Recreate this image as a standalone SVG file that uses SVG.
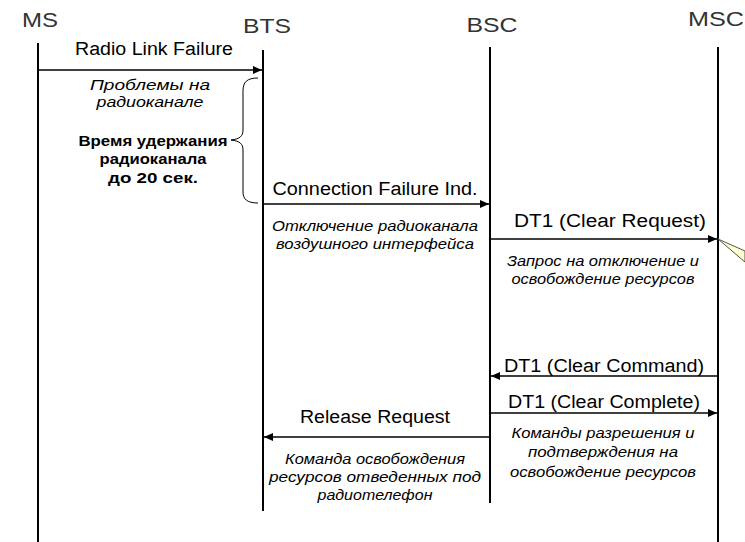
<svg xmlns="http://www.w3.org/2000/svg" width="745" height="542" viewBox="0 0 745 542">
<defs>
<marker id="ah" markerWidth="10" markerHeight="8" refX="9" refY="4" orient="auto" markerUnits="userSpaceOnUse">
<path d="M0,0 L9,4 L0,8 Z" fill="#000"/>
</marker>
<style>
text{font-family:"Liberation Sans",Arial,sans-serif;text-anchor:middle}
.ent{font-size:21px;fill:#333}
.life{stroke:#000;stroke-width:2;fill:none}
.msg{stroke:#000;stroke-width:1.6;fill:none;marker-end:url(#ah)}
.lbl{font-size:18px;fill:#000}
.note{font-size:15px;font-style:italic;fill:#000}
.bold{font-size:15.5px;font-weight:bold;fill:#000}
</style>
</defs>
<rect width="745" height="542" fill="#fff"/>
<g id="MS">
<text class="ent" x="40" y="27" textLength="36" lengthAdjust="spacingAndGlyphs">MS</text>
<line class="life" x1="38" y1="43" x2="38" y2="542"/>
</g>
<g id="BTS">
<text class="ent" x="267" y="33" textLength="48" lengthAdjust="spacingAndGlyphs">BTS</text>
<line class="life" x1="263" y1="50" x2="263" y2="511"/>
</g>
<g id="BSC">
<text class="ent" x="492" y="32" textLength="51" lengthAdjust="spacingAndGlyphs">BSC</text>
<line class="life" x1="490" y1="47" x2="490" y2="503"/>
</g>
<g id="MSC">
<text class="ent" x="716" y="26" textLength="56" lengthAdjust="spacingAndGlyphs">MSC</text>
<line class="life" x1="718" y1="47" x2="718" y2="542"/>
</g>
<g id="connectors">
<line class="msg" x1="38" y1="70" x2="262" y2="70"/>
<line class="msg" x1="263" y1="204" x2="489" y2="204"/>
<line class="msg" x1="490" y1="239" x2="717" y2="239"/>
<line class="msg" x1="718" y1="376" x2="491" y2="376"/>
<line class="msg" x1="490" y1="413" x2="717" y2="413"/>
<line class="msg" x1="490" y1="437" x2="264" y2="437"/>
</g>
<g id="labels">
<text class="lbl" x="154" y="55" textLength="158" lengthAdjust="spacingAndGlyphs">Radio Link Failure</text>
<text class="note" x="150" y="90" textLength="120" lengthAdjust="spacingAndGlyphs">Проблемы на</text>
<text class="note" x="150" y="107" textLength="107" lengthAdjust="spacingAndGlyphs">радиоканале</text>
<text class="bold" x="153" y="146" textLength="149" lengthAdjust="spacingAndGlyphs">Время удержания</text>
<text class="bold" x="153" y="164" textLength="107" lengthAdjust="spacingAndGlyphs">радиоканала</text>
<text class="bold" x="153" y="183" textLength="90" lengthAdjust="spacingAndGlyphs">до 20 сек.</text>
<text class="lbl" x="375" y="195" textLength="205" lengthAdjust="spacingAndGlyphs">Connection Failure Ind.</text>
<text class="note" x="375" y="231" textLength="206" lengthAdjust="spacingAndGlyphs">Отключение радиоканала</text>
<text class="note" x="375" y="249" textLength="198" lengthAdjust="spacingAndGlyphs">воздушного интерфейса</text>
<text class="lbl" x="610" y="227" textLength="192" lengthAdjust="spacingAndGlyphs">DT1 (Clear Request)</text>
<text class="note" x="603" y="266" textLength="192" lengthAdjust="spacingAndGlyphs">Запрос на отключение и</text>
<text class="note" x="603" y="284" textLength="183" lengthAdjust="spacingAndGlyphs">освобождение ресурсов</text>
<text class="lbl" x="604" y="372" textLength="200" lengthAdjust="spacingAndGlyphs">DT1 (Clear Command)</text>
<text class="lbl" x="604" y="408" textLength="192" lengthAdjust="spacingAndGlyphs">DT1 (Clear Complete)</text>
<text class="note" x="603" y="438" textLength="183" lengthAdjust="spacingAndGlyphs">Команды разрешения и</text>
<text class="note" x="603" y="457" textLength="150" lengthAdjust="spacingAndGlyphs">подтверждения на</text>
<text class="note" x="603" y="477" textLength="186" lengthAdjust="spacingAndGlyphs">освобождение ресурсов</text>
<text class="lbl" x="375" y="423" textLength="150" lengthAdjust="spacingAndGlyphs">Release Request</text>
<text class="note" x="375" y="464" textLength="180" lengthAdjust="spacingAndGlyphs">Команда освобождения</text>
<text class="note" x="375" y="482" textLength="212" lengthAdjust="spacingAndGlyphs">ресурсов отведенных под</text>
<text class="note" x="375" y="500" textLength="115" lengthAdjust="spacingAndGlyphs">радиотелефон</text>
</g>
<g id="brace">
<path d="M258,78 C247,78 243,82 243,91 L243,130 C243,136 240,139 231,140 C240,141 243,144 243,150 L243,192 C243,199 247,203 258,203" fill="none" stroke="#000" stroke-width="1"/>
</g>
<g id="callout">
<polygon points="718,239 745,251 745,262" fill="#ffffcc" stroke="#555" stroke-width="1"/>
</g>
</svg>
